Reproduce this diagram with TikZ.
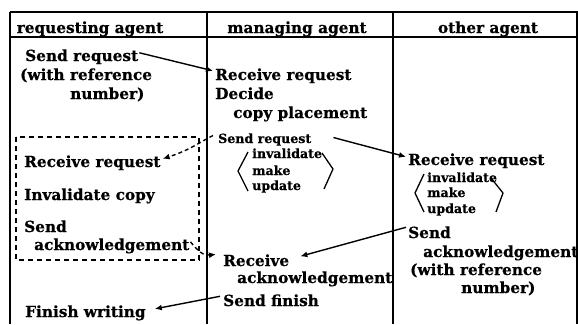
\documentclass[tikz,border=0pt]{standalone}
\usepackage{fontspec}
\setmainfont{DejaVu Serif}[BoldFeatures={FakeBold=0.6}]
\usetikzlibrary{arrows.meta}
\begin{document}
\begin{tikzpicture}[x=1pt,y=-1pt,
  lbl/.style={anchor=base west,inner sep=0pt,font=\bfseries\fontsize{15.3}{16}\selectfont},
  sml/.style={anchor=base west,inner sep=0pt,font=\bfseries\fontsize{12.6}{13}\selectfont},
  hdr/.style={anchor=base,inner sep=0pt,font=\bfseries\fontsize{15.3}{16}\selectfont},
  rule/.style={line width=1.6pt},
  msg/.style={line width=1.4pt,-{Latex[length=7pt,width=6pt]}},
  dmsg/.style={msg,dash pattern=on 4pt off 3pt},
  brk/.style={line width=1.3pt,line join=miter}]
\useasboundingbox (0,0) rectangle (578,324);

% table frame
\draw[rule] (10,12) -- (578,12);
\draw[rule] (10,37) -- (578,37);
\draw[rule] (10,12) -- (10,324);
\draw[rule] (207,12) -- (207,324);
\draw[rule] (393,12) -- (393,324);
\draw[rule] (577,12) -- (577,324);

% column headings
\node[hdr] (h1) at (90,33) {requesting agent};
\node[hdr] (h2) at (297,33) {managing agent};
\node[hdr] (h3) at (488,33) {other agent};

% requesting agent
\node[lbl] (rsend) at (25,61) {Send request};
\node[lbl] (rref)  at (20,80) {(with reference};
\node[lbl] (rnum)  at (70,99) {number)};
\node[lbl] (rrecv) at (24,167) {Receive request};
\node[lbl] (rinv)  at (24,200) {Invalidate copy};
\node[lbl] (rsnd2) at (24,232) {Send};
\node[lbl] (rack)  at (34,250) {acknowledgement};
\node[lbl] (rfin)  at (25,317) {Finish writing};
\draw[line width=1.2pt,dash pattern=on 5pt off 4pt] (16,137) rectangle (199,260);

% managing agent
\node[lbl] (mrecv) at (215,80) {Receive request};
\node[lbl] (mdec)  at (215,99) {Decide};
\node[lbl] (mcopy) at (233,118) {copy placement};
\node[sml] (msend) at (218,143) {Send request};
\node[sml] (minv)  at (252,158) {invalidate};
\node[sml] (mmake) at (252,175) {make};
\node[sml] (mupd)  at (252,190) {update};
\draw[brk] (248,152) -- (238,171) -- (248,191);
\draw[brk] (322,153) -- (333,169) -- (324,189);
\node[lbl] (mrack) at (223,266) {Receive};
\node[lbl] (mack)  at (237,283) {acknowledgement};
\node[lbl] (mfin)  at (223,306) {Send finish};

% other agent
\node[lbl] (orecv) at (408,165) {Receive request};
\node[sml] (oinv)  at (427,182) {invalidate};
\node[sml] (omake) at (427,197) {make};
\node[sml] (oupd)  at (427,213) {update};
\draw[brk] (424,174) -- (415,193) -- (424,212);
\draw[brk] (491,178) -- (503,193) -- (496,212);
\node[lbl] (osend) at (408,238) {Send};
\node[lbl] (oack)  at (423,257) {acknowledgement};
\node[lbl] (oref)  at (410,275) {(with reference};
\node[lbl] (onum)  at (461,293) {number)};

% messages
\draw[msg] ([xshift=1pt,yshift=4pt]rsend.east) -- ([xshift=-2pt,yshift=5pt]mrecv.west);
\draw[msg] ([xshift=22pt,yshift=2pt]msend.east) -- ([xshift=-2pt,yshift=4pt]orecv.west);
\draw[msg] ([xshift=-2pt,yshift=5pt]osend.west) -- ([xshift=11pt,yshift=4pt]mrack.east);
\draw[msg] ([xshift=-3pt,yshift=4pt]mfin.west) -- ([xshift=9pt,yshift=4pt]rfin.east);
\draw[dmsg] ([xshift=-5pt,yshift=4pt]msend.west) .. controls (200,142) and (190,150) .. ([xshift=2pt,yshift=4pt]rrecv.east);
\draw[dmsg] ([xshift=1pt,yshift=4pt]rack.east) .. controls (197,250) and (203,256) .. ([xshift=-7pt,yshift=6pt]mrack.west);
\end{tikzpicture}
\end{document}
